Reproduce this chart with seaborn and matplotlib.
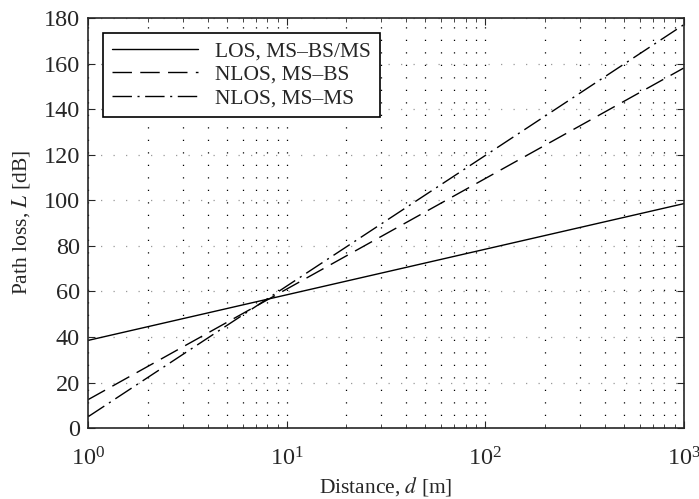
import numpy as np
import pandas as pd
import matplotlib
matplotlib.use("Agg")
import matplotlib.pyplot as plt
import seaborn as sns
from matplotlib.ticker import LogLocator

sns.set_style("ticks")
plt.rcParams['font.family'] = ['Liberation Serif', 'DejaVu Serif']
plt.rcParams['mathtext.fontset'] = 'stix'

distance = [1, 10, 100, 1000]
los = [38.5, 58.5, 78.5, 98.5]
nlos_bs = [12.5, 61.0, 109.5, 158.0]
nlos_ms = [5.0, 62.3, 119.6, 177.0]
labels = ["LOS, MS\u2013BS/MS", "NLOS, MS\u2013BS", "NLOS, MS\u2013MS"]
yticks = list(range(0, 181, 20))

df = pd.concat([
    pd.DataFrame({"d": distance, "L": los, "s": labels[0]}),
    pd.DataFrame({"d": distance, "L": nlos_bs, "s": labels[1]}),
    pd.DataFrame({"d": distance, "L": nlos_ms, "s": labels[2]}),
])

fig = plt.figure(figsize=(6.99, 4.99), dpi=100)
ax = fig.add_axes([0.126, 0.142, 0.852, 0.822])
styles = {labels[0]: '-', labels[1]: (0, (14, 6)), labels[2]: (0, (14, 4, 1.5, 4))}
for lab in labels:
    sub = df[df.s == lab]
    sns.lineplot(data=sub, x="d", y="L", ax=ax, color="black", linewidth=1.0,
                 linestyle=styles[lab], label=lab, estimator=None, sort=False)

ax.set_xscale("log")
ax.set_xlim(1, 1000)
ax.set_ylim(0, 180)
ax.set_yticks(yticks)
ax.xaxis.set_minor_locator(LogLocator(base=10, subs=np.arange(2, 10)))
ax.grid(True, which="major", axis="x", linestyle=(0, (1, 9)), color="black", linewidth=0.9)
ax.grid(True, which="minor", axis="x", linestyle=(0, (1, 9)), color="black", linewidth=0.9)
ax.grid(True, which="major", axis="y", linestyle=(0, (1, 9)), color="#999999", linewidth=0.9)
ax.tick_params(direction="in", which="both", top=True, right=True, labelsize=17.5, length=5)
ax.tick_params(axis="x", which="major", pad=14)
ax.tick_params(axis="y", which="major", pad=6)
ax.tick_params(which="minor", length=3)
for sp in ax.spines.values():
    sp.set_linewidth(1.2)
ax.set_xlabel("Distance, $d$ [m]", fontsize=15.5, labelpad=3)
ax.set_ylabel("Path loss, $L$ [dB]", fontsize=15.5, labelpad=8)
leg = ax.legend(loc="upper left", fontsize=15.5, frameon=True, fancybox=False,
                edgecolor="black", framealpha=1, handlelength=4.0, borderaxespad=0.7,
                labelspacing=0.15, borderpad=0.4)
leg.get_frame().set_linewidth(1.2)
fig.savefig("out.png", dpi=100)
